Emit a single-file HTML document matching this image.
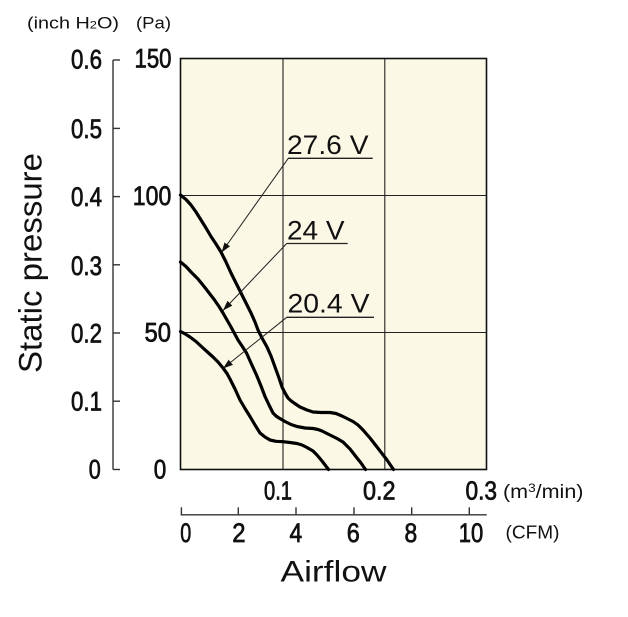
<!DOCTYPE html>
<html>
<head>
<meta charset="utf-8">
<style>
  html, body { margin:0; padding:0; background:#ffffff; }
  svg { display:block; }
  text { font-family: "Liberation Sans", "DejaVu Sans", sans-serif; fill:#111; }
  .num { stroke:#111; stroke-width:0.75; }
</style>
</head>
<body>
<svg width="628" height="617" viewBox="0 0 628 617" xmlns="http://www.w3.org/2000/svg">
  <defs>
    <marker id="ah" markerWidth="10" markerHeight="8" refX="10" refY="4" orient="auto" markerUnits="userSpaceOnUse">
      <path d="M0,0.6 L10,4 L0,7.4 z" fill="#111"/>
    </marker>
  </defs>

  <!-- unit headers -->
  <text x="27" y="28.5" font-size="17" textLength="92" lengthAdjust="spacingAndGlyphs">(inch H<tspan font-size="11">2</tspan>O)</text>
  <text x="136" y="28.5" font-size="17" textLength="35" lengthAdjust="spacingAndGlyphs">(Pa)</text>

  <!-- left inch axis -->
  <g stroke="#333" stroke-width="1.4" fill="none">
    <line x1="113" y1="60" x2="113" y2="469.5"/>
    <line x1="113" y1="60" x2="120" y2="60"/>
    <line x1="113" y1="128.4" x2="120" y2="128.4"/>
    <line x1="113" y1="196.6" x2="120" y2="196.6"/>
    <line x1="113" y1="264.8" x2="120" y2="264.8"/>
    <line x1="113" y1="333" x2="120" y2="333"/>
    <line x1="113" y1="401.2" x2="120" y2="401.2"/>
    <line x1="113" y1="469.5" x2="120" y2="469.5"/>
  </g>
  <g font-size="27" class="num">
    <text x="71" y="68.5" textLength="31" lengthAdjust="spacingAndGlyphs">0.6</text>
    <text x="71" y="138" textLength="31" lengthAdjust="spacingAndGlyphs">0.5</text>
    <text x="71" y="206" textLength="31" lengthAdjust="spacingAndGlyphs">0.4</text>
    <text x="71" y="275" textLength="31" lengthAdjust="spacingAndGlyphs">0.3</text>
    <text x="71" y="342.7" textLength="31" lengthAdjust="spacingAndGlyphs">0.2</text>
    <text x="71" y="410.7" textLength="31" lengthAdjust="spacingAndGlyphs">0.1</text>
    <text x="88.8" y="478.5" textLength="12" lengthAdjust="spacingAndGlyphs">0</text>

    <text x="134.5" y="67.7" textLength="37" lengthAdjust="spacingAndGlyphs">150</text>
    <text x="132.8" y="205" textLength="38.5" lengthAdjust="spacingAndGlyphs">100</text>
    <text x="144.5" y="341.7" textLength="26.5" lengthAdjust="spacingAndGlyphs">50</text>
    <text x="153.8" y="478.5" textLength="12.5" lengthAdjust="spacingAndGlyphs">0</text>
  </g>

  <!-- Static pressure -->
  <text transform="translate(41.5,263) rotate(-90)" x="0" y="0" text-anchor="middle" font-size="32" textLength="220" lengthAdjust="spacingAndGlyphs">Static pressure</text>

  <!-- plot area -->
  <rect x="180.5" y="58.5" width="306" height="411" fill="#FBF8E6" stroke="none"/>
  <g stroke="#222" stroke-width="1.1">
    <line x1="283" y1="58.5" x2="283" y2="469.5"/>
    <line x1="384.8" y1="58.5" x2="384.8" y2="469.5"/>
    <line x1="180.5" y1="195.5" x2="486.5" y2="195.5"/>
    <line x1="180.5" y1="332.5" x2="486.5" y2="332.5"/>
  </g>
  <rect x="180.5" y="58.5" width="306" height="411" fill="none" stroke="#111" stroke-width="1.6"/>

  <!-- curves -->
  <g fill="none" stroke="#000" stroke-width="3.2" stroke-linejoin="round" stroke-linecap="round">
    <polyline points="180.5,195 186,199.5 191,205 196,212 201,220 206,228 211,236.5 216,244 221,252 226,262 231,273 236,283 241,293 246,303 251,313 255,322 258,330 262,338 267,347 271,356 275,367 279,378 282,387 285,393 288,398 291,400.8 294,403 300,407 307,410 313,412 321,412.5 330,412.5 336,413.5 342,416 348,419 353,421.5 358,425 363,430 370,438 377,447 382,453.5 387,460 393.5,469.5"/>
    <polyline points="180.5,262 186,266.5 191,272 198,279 204.5,287 209.5,293.5 214.5,300 219,306.5 223,313 227,320 231,327 238,340 242,346 246.5,353 251,363 256.5,375 261,386 265,396.5 269,405 273,413 276,416 279,418 285,421.5 291,424.5 297,426.5 305,428 313,428.5 318,429.5 322,431 330,435 337,438.5 343,442 350,449 357,458 361,463 365.5,469.5"/>
    <polyline points="180.5,331.5 185,333.8 190,337 196,341.5 203,348 208,352.5 213,357 218,362 223,368 227,373.5 230,379 235,389 240,400 245,408.5 250,416.5 255,425 260,433 265,437 270,440 276,441.3 283,441.7 290,442.5 297,443.5 302,445 307,447.5 313,451 317,455 322,461 328.5,469.5"/>
  </g>

  <!-- leader lines with arrows -->
  <g stroke="#222" stroke-width="1" fill="none">
    <line x1="288.3" y1="158.3" x2="221.5" y2="252.5" marker-end="url(#ah)"/>
    <line x1="286.7" y1="243.5" x2="223" y2="310.5" marker-end="url(#ah)"/>
    <line x1="286.7" y1="317.3" x2="223" y2="368.5" marker-end="url(#ah)"/>
    <line x1="288" y1="158.3" x2="372.7" y2="158.3" stroke-width="1.3"/>
    <line x1="286.7" y1="243.5" x2="347.7" y2="243.5" stroke-width="1.3"/>
    <line x1="286.7" y1="317.3" x2="374" y2="317.3" stroke-width="1.3"/>
  </g>
  <g font-size="27">
    <text x="287" y="154" textLength="81.5" lengthAdjust="spacingAndGlyphs">27.6 V</text>
    <text x="287" y="239.3" textLength="57.5" lengthAdjust="spacingAndGlyphs">24 V</text>
    <text x="287.5" y="312.7" textLength="82" lengthAdjust="spacingAndGlyphs">20.4 V</text>
  </g>

  <!-- m3/min labels -->
  <g font-size="25.5" class="num">
    <text x="264" y="499.5" textLength="28" lengthAdjust="spacingAndGlyphs">0.1</text>
    <text x="363" y="499.5" textLength="32.5" lengthAdjust="spacingAndGlyphs">0.2</text>
    <text x="465.5" y="499.5" textLength="31.5" lengthAdjust="spacingAndGlyphs">0.3</text>
  </g>
  <text x="503" y="498" font-size="19" textLength="80.5" lengthAdjust="spacingAndGlyphs">(m<tspan font-size="12" dy="-6">3</tspan><tspan dy="6">/min)</tspan></text>

  <!-- CFM axis -->
  <g stroke="#333" stroke-width="1.4" fill="none">
    <line x1="180.7" y1="514.8" x2="486.7" y2="514.8"/>
    <line x1="181.4" y1="507.3" x2="181.4" y2="514.8"/>
    <line x1="238.3" y1="507.3" x2="238.3" y2="514.8"/>
    <line x1="296" y1="507.3" x2="296" y2="514.8"/>
    <line x1="354" y1="507.3" x2="354" y2="514.8"/>
    <line x1="411.7" y1="507.3" x2="411.7" y2="514.8"/>
    <line x1="469.3" y1="507.3" x2="469.3" y2="514.8"/>
  </g>
  <g font-size="27" class="num">
    <text x="180.2" y="542" textLength="11" lengthAdjust="spacingAndGlyphs">0</text>
    <text x="232.2" y="542" textLength="13.3" lengthAdjust="spacingAndGlyphs">2</text>
    <text x="289.5" y="542" textLength="12.7" lengthAdjust="spacingAndGlyphs">4</text>
    <text x="346.8" y="542" textLength="13" lengthAdjust="spacingAndGlyphs">6</text>
    <text x="404.5" y="542" textLength="12.7" lengthAdjust="spacingAndGlyphs">8</text>
    <text x="458.8" y="542" textLength="24.5" lengthAdjust="spacingAndGlyphs">10</text>
  </g>
  <text x="505.5" y="538.5" font-size="18.5" textLength="54" lengthAdjust="spacingAndGlyphs">(CFM)</text>

  <!-- Airflow -->
  <text x="280.5" y="581.7" font-size="30" textLength="106" lengthAdjust="spacingAndGlyphs">Airflow</text>
</svg>
</body>
</html>
